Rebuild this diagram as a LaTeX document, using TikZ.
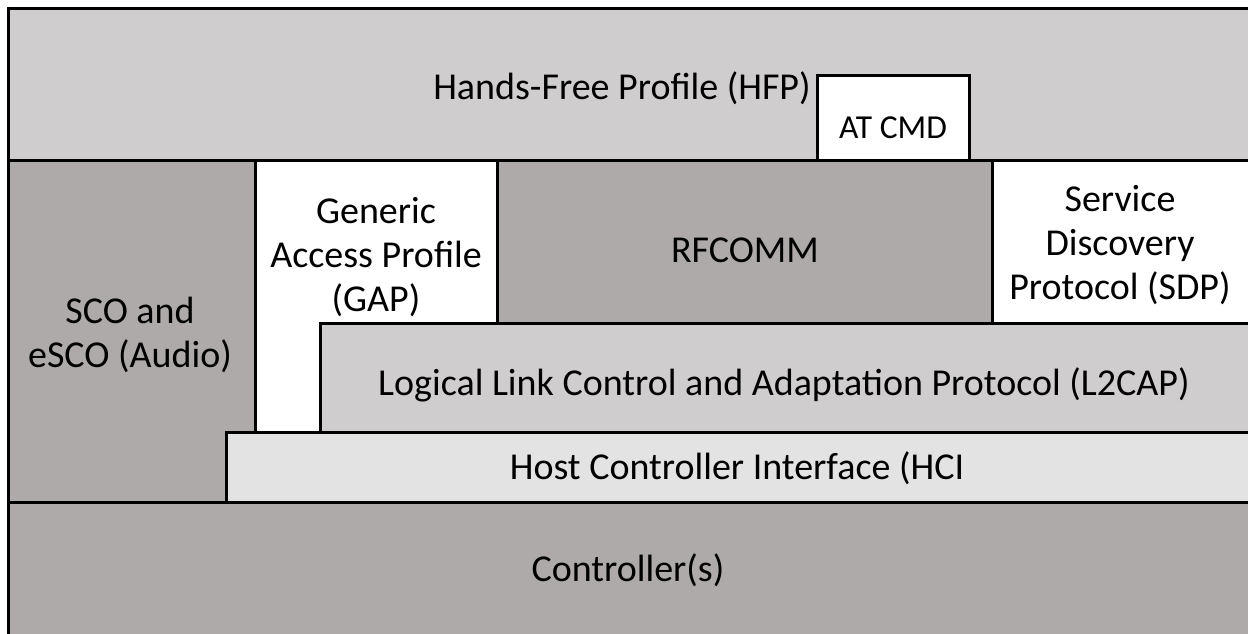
\documentclass[tikz,border=0pt]{standalone}
\usepackage{fontspec}
\setmainfont{Carlito}
\usepackage{xcolor}
\definecolor{lightgrey}{HTML}{D0CDCE}
\definecolor{darkgrey}{HTML}{AEAAA9}
\definecolor{palegrey}{HTML}{E4E3E3}

\begin{document}
\begin{tikzpicture}[x=1pt,y=-1pt]
    \def\fs{\fontsize{38}{44}\selectfont}

    \tikzstyle{light}=[fill=lightgrey,draw=black,line width=3pt]
    \tikzstyle{dark}=[fill=darkgrey,draw=black,line width=3pt]
    \tikzstyle{pale}=[fill=palegrey,draw=black,line width=3pt]
    \tikzstyle{blank}=[fill=white,draw=black,line width=3pt]
    \tikzstyle{layertext}=[align=center,font=\fs,inner sep=0pt]

    \useasboundingbox (0,0) rectangle (1248,634);
    \clip (0,0) rectangle (1248,634);

    % top profile with AT commands on it
    \draw[light] (8,9) rectangle (1262,160);
    \draw[blank] (817,76) rectangle (969,160);
    \node[layertext] (hfp) at (622,88) {Hands-Free Profile (HFP)};
    \node[layertext,font=\fontsize{33.5}{38}\selectfont] (atcmd) at (893,128) {AT CMD};

    % middle layers
    \draw[dark]  (8,160) rectangle (255,502);
    \draw[blank] (255,160) rectangle (497,432);
    \draw[dark]  (497,160) rectangle (992,323);
    \draw[blank] (992,160) rectangle (1262,323);
    \draw[light] (320,323) rectangle (1262,432);
    \draw[pale]  (226,432) rectangle (1262,502);

    \node[layertext] (sco) at (130,335) {SCO and\\eSCO (Audio)};
    \node[layertext] (gap) at (376,257) {Generic\\Access Profile\\(GAP)};
    \node[layertext] (rfcomm) at (745,250) {RFCOMM};
    \node[layertext] (sdp) at (1120,245) {Service\\Discovery\\Protocol (SDP)};
    \node[layertext] (l2cap) at (784,385) {Logical Link Control and Adaptation Protocol (L2CAP)};
    \node[layertext] (hci) at (737,468) {Host Controller Interface (HCI};

    % bottom
    \draw[dark] (8,502) rectangle (1262,650);
    \node[layertext] (ctrl) at (628,570) {Controller(s)};

\end{tikzpicture}
\end{document}
